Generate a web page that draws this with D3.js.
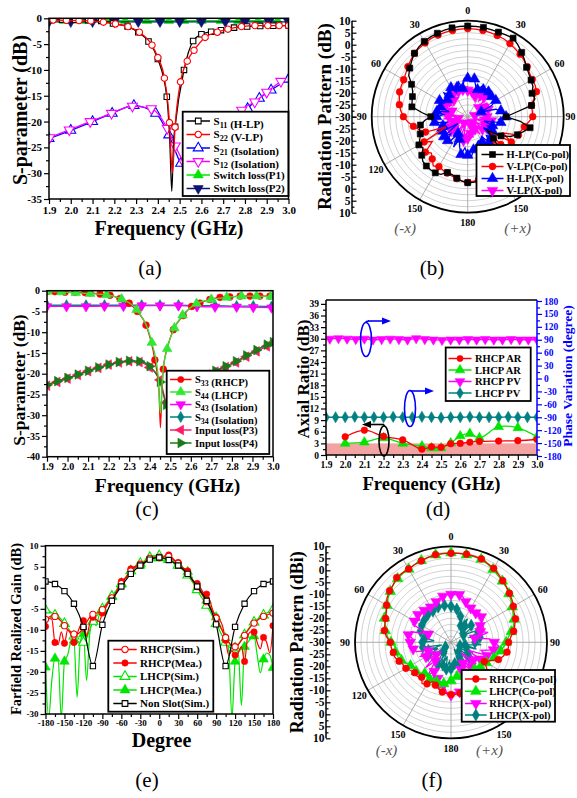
<!DOCTYPE html>
<html><head><meta charset="utf-8">
<script src="https://cdn.jsdelivr.net/npm/d3@7/dist/d3.min.js"></script>
<style>
html,body{margin:0;padding:0;background:#fff;}
svg text{font-family:"Liberation Serif","Times New Roman",serif;}
</style></head><body>
<script>
// ================= DATA =================
// ---- Panel (a) ----
const aTicksX=[1.9,2.0,2.1,2.2,2.3,2.4,2.5,2.6,2.7,2.8,2.9,3.0];
const aTicksY=[0,-5,-10,-15,-20,-25,-30,-35];
const aS11F=[1.9,1.96,2.02,2.08,2.14,2.194,2.261,2.31,2.357,2.40,2.441,2.455,2.464,2.472,2.479,2.52,2.562,2.6,2.645,2.69,2.75,2.81,2.87,2.93,3.0];
const aS11V=[-0.2,-0.25,-0.3,-0.35,-0.5,-1.0,-1.6,-2.7,-4.5,-7.9,-15.2,-24,-33.5,-24,-21,-10,-4.4,-3.1,-2.6,-2.3,-1.8,-1.6,-1.5,-1.45,-1.4];
const aS22F=[1.919,1.98,2.038,2.092,2.15,2.205,2.263,2.315,2.373,2.40,2.43,2.453,2.461,2.467,2.479,2.504,2.535,2.566,2.617,2.673,2.722,2.784,2.846,2.905,2.957,3.0];
const aS22V=[-0.33,-0.4,-0.45,-0.5,-0.75,-1.1,-1.6,-2.7,-5.2,-7.6,-11.6,-20.2,-27,-30,-21.1,-12.3,-8.3,-6.2,-3.7,-2.7,-2.1,-1.6,-1.4,-1.4,-1.4,-1.4];
const aS21F=[1.9,2.0,2.1,2.19,2.29,2.39,2.45,2.505,2.56,2.64,2.72,2.812,2.866,2.92,3.0];
const aS21V=[-23.3,-21.7,-20.0,-18.4,-16.9,-18.4,-22.6,-28.1,-31,-30,-24,-17.5,-15.5,-13.9,-11.8];
const aS12F=[1.903,1.993,2.089,2.187,2.283,2.37,2.443,2.48,2.52,2.6,2.7,2.785,2.845,2.9,2.965];
const aS12V=[-23.1,-21.6,-20.0,-18.4,-17.0,-17.5,-21.3,-24.7,-28,-31,-26,-17.8,-16.2,-14.3,-12.2];
const aSw1F=[1.9,1.97,2.07,2.17,2.25,2.35,2.45,2.52,2.6,2.69,2.77,2.86,2.95];
const aSw1V=[-0.45,-0.45,-0.45,-0.45,-0.45,-0.45,-0.45,-0.45,-0.45,-0.45,-0.45,-0.45,-0.45];
const aSw2F=[1.9,2.0,2.1,2.2,2.31,2.41,2.5,2.6,2.71,2.8,2.91,3.0];
const aSw2V=[-0.7,-0.7,-0.7,-0.7,-0.7,-0.7,-0.7,-0.7,-0.7,-0.7,-0.7,-0.7];

// ---- Panel (b) polar (angles -180..175 step 5) ----
const rTickLabels=[10,5,0,-5,-10,-15,-20,-25,-30];
const bHCo=[-2.5,-3,-4,-5,-5.3,-3.5,-3,-3,-3.2,-3.6,-5,-7.3,-6.5,-8,-9,-9.2,-10,-12,-14.6,-11,-6.4,-6,-5.5,-4.7,-3,0,1.5,3,4.5,5.5,6.2,6.7,7,7.3,7.6,7.8,
 7.8,7.8,7.8,7.6,7.5,7.6,7.8,6.5,5,3.5,2,1.1,0.5,0,-1.5,-1,-3,-10,-14,-8,-3.6,-6,-8,-10.5,-14,-20,-16,-12,-9,-7,-5,-4,-3.5,-3.5,-3,-2.5];
const bVCo=[-2.6,-3,-3.8,-4.4,-5,-5.5,-6,-5,-7,-8.6,-7,-12,-9,-20,-11.3,-9,-7,-5,-3.2,-2,-1.1,-0.5,0.2,0.5,0.8,1.5,2.5,3.5,4.5,5,5.5,6,6.2,6.4,6.5,6.6,
 6.7,6.6,6.5,6.3,6,5.7,5.2,4.5,4,3.2,2.4,1.5,1,1,0.5,-1.5,-3,-3,-2.9,-4.5,-6,-7,-7.5,-14,-9,-20,-12,-15,-9,-7,-6,-5,-4.5,-4,-3.5,-3];
const bHX=[-14,-17,-14,-17,-20,-16,-22,-18,-17,-20,-17,-25,-18,-16,-19,-21,-16,-15,-17,-20,-17,-22,-18,-17,-16.5,-18,-19,-16,-18,-16,-16,-19,-17,-15,-18,-14,
 -14,-15,-14,-17,-18,-16,-17,-16,-16.5,-18,-17,-16,-16.5,-19,-24,-18,-16,-14.5,-14,-17,-16,-23,-19,-21,-18,-22,-17,-19,-16,-20,-18,-15,-17,-14,-16,-13];
const bVX=[-21,-23,-20,-26,-21,-22,-27,-20,-22,-25,-21,-27,-22,-20,-24,-21,-26,-20,-22,-25,-21,-19.5,-23,-20,-19.6,-22,-20,-19.6,-21,-19,-18.6,-20,-18.8,-19,-18.5,-19,
 -19,-18.7,-19.5,-18.5,-21,-19,-19.4,-22,-19.5,-21,-24,-20,-22,-26,-21,-23,-27,-21,-22,-25,-20,-27,-22,-24,-21,-26,-22,-23,-27,-21,-24,-22,-26,-21,-23,-22];

// ---- Panel (c) ----
const cTicksY=[0,-5,-10,-15,-20,-25,-30,-35,-40];
const cS33F=[1.9,1.939,1.988,2.036,2.085,2.109,2.158,2.207,2.255,2.3,2.34,2.382,2.425,2.445,2.452,2.459,2.466,2.49,2.515,2.563,2.604,2.644,2.693,2.742,2.79,2.84,2.888,2.936,2.985];
const cS33V=[-0.2,-0.24,-0.35,-0.4,-0.45,-0.5,-0.8,-1.1,-1.9,-3.0,-5.0,-8.3,-16.7,-24,-33,-24,-18.9,-13,-9.4,-6,-3.8,-3,-2.1,-1.6,-1.5,-1.3,-1.3,-1.3,-1.3];
const cS44F=[1.9,1.97,2.04,2.11,2.19,2.263,2.336,2.41,2.44,2.452,2.463,2.485,2.52,2.56,2.628,2.7,2.775,2.847,2.92,2.99];
const cS44V=[-0.2,-0.3,-0.5,-0.7,-1.0,-2.0,-4.6,-12.5,-20,-29.5,-20,-14,-9,-5.9,-3.1,-2.1,-1.6,-1.3,-1.3,-1.4];
const cIsoF=[1.9,1.995,2.09,2.18,2.272,2.361,2.45,2.54,2.63,2.718,2.823,2.904,2.993];
const cS43V=[-3.8,-3.8,-3.8,-3.7,-3.7,-3.6,-3.6,-3.6,-3.8,-3.9,-3.9,-4.0,-4.1];
const cS34V=[-3.5,-3.5,-3.5,-3.5,-3.5,-3.5,-3.5,-3.5,-3.6,-3.6,-3.7,-3.7,-3.8];
const cInF=[1.9,1.95,2.0,2.05,2.1,2.15,2.2,2.25,2.3,2.35,2.4,2.45,2.48,2.52,2.58,2.64,2.68,2.72,2.77,2.82,2.87,2.92,2.97,3.0];
const cP3V=[-22.9,-22.0,-21.2,-20.3,-19.4,-18.6,-17.8,-17.3,-17.0,-17.2,-18.5,-21.5,-27,-30.5,-29.5,-22.5,-20.2,-19.5,-18.4,-17.3,-15.9,-14.6,-13.4,-12.6];
const cP4V=[-22.7,-21.8,-21.0,-20.2,-19.3,-18.5,-17.8,-17.2,-16.9,-17.0,-18.2,-22.0,-27.5,-31,-30,-23,-20.5,-19.3,-18.2,-17.0,-15.6,-14.3,-13.0,-12.4];

// ---- Panel (d) ----
const dTicksY=[0,3,6,9,12,15,18,21,24,27,30,33,36,39];
const dTicksR=[-180,-150,-120,-90,-60,-30,0,30,60,90,120,150,180];
const dARF=[2.0,2.1,2.2,2.3,2.4,2.45,2.5,2.55,2.6,2.65,2.7,2.8,2.9,3.0];
const dRAR=[4.7,6.4,4.8,3.9,1.5,2.1,2.0,2.9,3.0,3.3,3.5,3.6,3.7,4.0];
const dLAR=[3.0,3.3,4.4,3.0,2.3,1.8,1.8,3.1,4.9,5.5,4.4,7.3,7.0,4.7];
const dPVRF=[1.92,1.965,2.01,2.055,2.1,2.145,2.19,2.235,2.28,2.325,2.37,2.415,2.46,2.505,2.55,2.595,2.64,2.685,2.73,2.775,2.82,2.865,2.91,2.955,3.0];
const dPVRV=[92,93,92,91,92,90,91,92,91,90,93,91,90,89,90,90,91,90,91,90,90,91,90,90,90];
const dPVLF=[1.9,1.95,2.0,2.05,2.1,2.15,2.2,2.25,2.3,2.35,2.4,2.45,2.5,2.55,2.6,2.65,2.7,2.75,2.8,2.85,2.9,2.95,3.0];
const dPVLV=[-90,-90,-90,-89,-90,-90,-90,-89,-90,-90,-89,-90,-91,-90,-90,-89,-90,-90,-90,-89,-90,-90,-90];

// ---- Panel (e) (angles -180..180 step 5) ----
const eTicksX=[-180,-150,-120,-90,-60,-30,0,30,60,90,120,150,180];
const eTicksY=[10,5,0,-5,-10,-15,-20,-25,-30];
const eRSim=[-7.5,-7,-6.7,-6.8,-7.3,-8,-9,-10,-10.5,-11,-11,-10.5,-9.5,-8.2,-7,-6.3,-6,-5.8,-5.2,-4.3,-3.3,-2.4,-1.5,-0.2,1,2,3,4,4.7,5.2,5.6,6,6.5,7,7.2,7.3,
 7.3,7.4,7.6,7.5,7,6.3,5.8,5,4.3,3.4,2.4,1.3,0.3,-1,-2.2,-3.3,-4.5,-5.8,-7.2,-8.8,-10.3,-11.8,-13,-13.8,-14,-13.5,-12.5,-11.3,-10.2,-9.2,-8.4,-7.8,-7.2,-6.8,-6.5,-6.2,-6];
const eRMea=[-9.2,-7.3,-7.5,-13,-13.5,-10.5,-13.2,-10,-11,-13,-11,-9,-7.8,-11.5,-8.5,-7,-7.5,-8,-6,-4.8,-3.5,-2.5,-1.8,0,1.5,2.2,3,4.5,5,5.3,5.5,5.8,6.3,6.8,7.2,7.2,
 7.1,7.3,7.6,7.8,7.2,6.5,6,5,4.5,4,2.5,1.5,1,0,-1.2,-1.5,-3,-5.5,-7,-7.5,-9,-12.5,-16,-15,-16,-15.5,-14,-17.5,-11.5,-10.5,-10.5,-13,-14.5,-11.8,-13,-15.5,-9];
const eLSim=[-5.3,-5.5,-6,-6.5,-7,-7.5,-8.5,-9.5,-10.5,-11.5,-12.5,-13,-13,-12,-10,-8,-6.8,-6,-5,-4,-3,-2,-1,0,1,2,3,4,4.8,5.3,5.8,6.3,6.7,7.2,7.6,7.7,
 7.6,7.3,7,6.7,6.3,5.8,5.3,4.6,3.8,3,2,0.8,-0.5,-1.8,-3,-4.2,-5.5,-7,-8.5,-10,-11.5,-13,-14,-14.5,-14.3,-13.5,-12.3,-11.2,-10,-9,-8.2,-7.5,-7,-6.5,-6,-5.6,-5.2];
const eLMea=[-18.9,-31,-22,-16.8,-17,-31,-17.5,-16,-13,-12.5,-26,-13,-11,-22,-11,-8,-9,-6.5,-5.5,-4.5,-3,-2.2,-1.5,0.2,0.8,2,3,4,4.5,5,5.3,5.5,6.5,7,7.5,7.2,
 7,7,7.3,7,6.5,5.5,5.5,5,4.5,3.8,2,1,0,-0.5,-1.5,-3,-4.5,-5.5,-7,-9,-10,-12,-15,-31,-17.5,-15,-28,-14,-13,-12,-11.5,-16,-20.2,-17,-15.5,-16,-19];
const eNSDeg=[-180,-165,-150,-135,-120,-105,-90,-75,-60,-45,-30,-15,0,15,30,45,60,75,90,105,120,135,150,165,180];
const eNS=[1.5,0.9,-0.8,-3.8,-9.3,-18.6,-8.8,-3.1,0.3,3.3,5.3,6.7,7.2,6.6,5.3,3.3,0.3,-3.1,-8.7,-18.6,-9.3,-3.8,-0.8,0.9,1.5];

// ---- Panel (f) polar ----
const fRCo=[-8.2,-8.5,-9,-10,-11,-12,-10,-9,-11,-10,-10.3,-9.5,-8.3,-8,-7,-5.8,-5.6,-5,-4.7,-3,-1.8,-1.5,-1,-0.3,1,2.5,3.4,4,5.2,5.3,5.3,5.8,6.1,6.6,7.1,7.1,
 7.1,7.2,7.3,7.2,7,6.2,5.6,4.5,3.5,2.7,1.8,1,0,-1,-1.4,-2.5,-3.5,-5,-6,-6,-6.3,-7.5,-9,-12,-14,-12,-10,-11,-12,-9,-8,-10,-11,-9,-8.5,-8.2];
const fLCo=[-14,-13,-12.5,-13,-12.5,-13.5,-12.3,-12.5,-13,-12,-11,-11,-10.5,-9.5,-8,-7,-6.5,-6.8,-5,-3.5,-2.2,-1.5,-0.5,0,0.8,2,3,4,4.6,5,5.2,5.8,6.2,6.8,7,7.2,
 7.3,7.2,7,7,6.8,6,5,4,3.3,2.5,1.5,0.5,-0.5,-1.5,-2,-3,-4.5,-6,-7,-8,-9,-10,-11,-12,-13,-14,-14,-16,-15,-14,-14.5,-15,-15,-15.5,-15.6,-15];
const fRX=[-8,-9,-12,-10,-14,-12,-16,-13,-20,-15,-22,-17,-18,-16,-20,-15,-14,-13,-13,-14,-12,-13,-20,-12.5,-12.4,-14,-12,-13,-12.6,-12.6,-13,-12.5,-12,-11,-10.5,-10,
 -10,-10,-9.8,-10.5,-12,-14,-13.5,-13.8,-14,-13,-13.5,-13.7,-16,-15,-17,-14,-20,-14,-12,-10,-12,-17,-14,-22,-16,-20,-18,-24,-17,-15,-20,-13,-18,-11,-9,-8.5];
const fLX=[-19,-22,-18.7,-24,-20,-26,-19,-22,-25,-20,-27,-21,-19,-24,-20,-26,-18,-19,-18,-23,-19,-17,-16.5,-16,-15.9,-16,-15.5,-16,-15,-15.2,-15,-14.6,-14.4,-14.5,-14.4,-15,
 -15,-15,-16,-18,-18.5,-19,-22,-18,-21,-25,-19,-20,-24,-18.5,-18,-22,-17.8,-17.5,-20,-17.4,-24,-19,-26,-20,-22,-27,-20,-21,-25,-19,-23,-27,-20,-18.7,-21,-19];

// ================= DRAWING =================
const FONT='"Liberation Serif","Times New Roman",serif';
const RED='#ff0000',BLK='#000000',BLU='#0000ff',MAG='#ff00ff',GRN='#00e600',NAVY='#0b1470',TEAL='#008080',CRIM='#ff1a66',DGRN='#1a7a1a';
const svg=d3.select('body').append('svg').attr('width',577).attr('height',798).style('background','#fff');
const defs=svg.append('defs');
function clip(id,x,y,w,h){defs.append('clipPath').attr('id',id).append('rect').attr('x',x).attr('y',y).attr('width',w).attr('height',h);}
const SYM={sq:[d3.symbolSquare,0,1],ci:[d3.symbolCircle,0,1],tu:[d3.symbolTriangle,0,1.35],td:[d3.symbolTriangle,180,1.35],tl:[d3.symbolTriangle,-90,1.35],tr:[d3.symbolTriangle,90,1.35],di:[d3.symbolDiamond,0,1.2]};
function mk(g,t,x,y,c,f,s){
  const [ty,r,k]=SYM[t];
  g.append('path').attr('d',d3.symbol().type(ty).size((s||36)*k)()).attr('transform',`translate(${x},${y}) rotate(${r})`)
   .attr('fill',f?c:'#fff').attr('stroke',c).attr('stroke-width',f?0.6:1.1);
}
function txt(g,x,y,s,size,o){
  o=o||{};
  const t=g.append('text').attr('x',x).attr('y',y).text(s).attr('font-size',size)
   .attr('font-weight',o.w||'bold').attr('fill',o.c||'#000').attr('text-anchor',o.a||'middle').attr('font-family',FONT);
  if(o.rot) t.attr('transform',`rotate(${o.rot},${x},${y})`);
  if(o.it) t.attr('font-style','italic');
  return t;
}
function cline(g,xs,ys,fv,vv,c,t,f,o){
  o=o||{};
  const pts=fv.map((v,i)=>[xs(v),ys(vv[i])]);
  g.append('path').attr('d',d3.line().curve(o.curve||d3.curveMonotoneX)(pts)).attr('fill','none').attr('stroke',c).attr('stroke-width',o.lw||1.3);
  const ev=o.every||1;
  pts.forEach((p,i)=>{ if(i%ev===0 && !(o.skip||[]).includes(i)) mk(g,t,p[0],p[1],c,f,o.sz); });
}
function styleAx(a,fs,col){
  a.select('.domain').remove();
  a.selectAll('line').attr('stroke',col||'#000').attr('stroke-width',1.2);
  a.selectAll('text').attr('font-size',fs).attr('font-weight','bold').attr('fill',col||'#000').attr('font-family',FONT);
  return a;
}
function axesXY(g,xs,ys,o){
  const [x0,x1]=xs.range(); const [yb,yt]=ys.range(); const fs=o.fs||11;
  styleAx(g.append('g').attr('transform',`translate(0,${yb})`).call(d3.axisBottom(xs).tickValues(o.xMinor).tickSize(3).tickFormat('')),fs);
  styleAx(g.append('g').attr('transform',`translate(0,${yb})`).call(d3.axisBottom(xs).tickValues(o.xTicks).tickSize(5).tickPadding(o.xpad==null?2:o.xpad).tickFormat(o.xf)),fs);
  styleAx(g.append('g').attr('transform',`translate(${x0},0)`).call(d3.axisLeft(ys).tickValues(o.yMinor).tickSize(3).tickFormat('')),fs);
  styleAx(g.append('g').attr('transform',`translate(${x0},0)`).call(d3.axisLeft(ys).tickValues(o.yTicks).tickSize(5).tickPadding(2).tickFormat(o.yf)),fs);
  g.append('rect').attr('x',x0).attr('y',yt).attr('width',x1-x0).attr('height',yb-yt).attr('fill','none').attr('stroke','#000').attr('stroke-width',1.5);
}
function legend(g,box,rows,items,lx0,lx1,tx,fs,msz){
  g.append('rect').attr('x',box[0]).attr('y',box[1]).attr('width',box[2]-box[0]).attr('height',box[3]-box[1]).attr('fill','#fff').attr('stroke','#000').attr('stroke-width',1.8);
  items.forEach((it,i)=>{
    const y=rows[i];
    g.append('line').attr('x1',lx0).attr('x2',lx1).attr('y1',y).attr('y2',y).attr('stroke',it.c).attr('stroke-width',1.5);
    mk(g,it.t,(lx0+lx1)/2,y,it.c,it.f,msz);
    const t=g.append('text').attr('x',tx).attr('y',y+fs*0.36).attr('font-size',fs).attr('font-weight','bold').attr('font-family',FONT);
    it.p.forEach(pt=>{
      if(pt[1]){ t.append('tspan').text(pt[0]).attr('font-size',fs*0.75).attr('dy',3); t.append('tspan').text('').attr('dy',-3); }
      else t.append('tspan').text(pt[0]);
    });
  });
}
const f1=v=>v.toFixed(1), fi=v=>String(v);

// ---------- Panel (a) ----------
{
  const g=svg.append('g');
  const xs=d3.scaleLinear().domain([1.9,3.0]).range([49,288.5]);
  const ys=d3.scaleLinear().domain([-35,0]).range([199,18.3]);
  clip('ca',49,18.3,239.5,180.7);
  const p=g.append('g').attr('clip-path','url(#ca)');
  cline(p,xs,ys,aSw1F,aSw1V,GRN,'tu',true,{sz:30});
  cline(p,xs,ys,aSw2F,aSw2V,NAVY,'td',true,{sz:30});
  cline(p,xs,ys,aS21F,aS21V,BLU,'tu',false,{sz:32});
  cline(p,xs,ys,aS12F,aS12V,MAG,'td',false,{sz:32});
  cline(p,xs,ys,aS11F,aS11V,BLK,'sq',false,{sz:30,skip:[11,12,13]});
  cline(p,xs,ys,aS22F,aS22V,RED,'ci',false,{sz:32,skip:[12,13]});
  legend(g,[182.7,111.7,288.5,196],[121,134.5,148,161.5,175,188.5],[
    {c:BLK,t:'sq',f:false,p:[['S',0],['11',1],[' (H-LP)',0]]},
    {c:RED,t:'ci',f:false,p:[['S',0],['22',1],[' (V-LP)',0]]},
    {c:BLU,t:'tu',f:false,p:[['S',0],['21',1],[' (Isolation)',0]]},
    {c:MAG,t:'td',f:false,p:[['S',0],['12',1],[' (Isolation)',0]]},
    {c:GRN,t:'tu',f:true,p:[['Switch loss(P1)',0]]},
    {c:NAVY,t:'td',f:true,p:[['Switch loss(P2)',0]]}],186.5,210,213.5,11,32);
  axesXY(g,xs,ys,{xTicks:aTicksX,xMinor:d3.range(1.95,3.0,0.1),yTicks:aTicksY,yMinor:d3.range(-32.5,0,5),xf:f1,yf:fi,fs:11});
  txt(g,169,235,'Frequency (GHz)',20);
  txt(g,27,110,'S-parameter (dB)',20,{rot:-90});
  txt(g,150,275,'(a)',21,{w:'normal'});
}

// ---------- Polar helper ----------
const polarAng=d3.range(-180,180,5);
function polar(o){
  const g=svg.append('g');
  const R=o.R, cx=o.cx, cy=o.cy;
  const rs=d3.scaleLinear().domain([-30,10]).range([0,R]);
  const P=(a,v)=>{const t=a*Math.PI/180, r=rs(Math.max(-30,v)); return [cx+r*Math.sin(t), cy-r*Math.cos(t)];};
  d3.range(-27.5,10,2.5).forEach(v=>g.append('circle').attr('cx',cx).attr('cy',cy).attr('r',rs(v)).attr('fill','none').attr('stroke','#b4b4b4').attr('stroke-width',0.6));
  [0,30,60,90,120,150,180,210,240,270,300,330].forEach(a=>{const p=P(a,10); g.append('line').attr('x1',cx).attr('y1',cy).attr('x2',p[0]).attr('y2',p[1]).attr('stroke','#999').attr('stroke-width',0.8);});
  g.append('circle').attr('cx',cx).attr('cy',cy).attr('r',R).attr('fill','none').attr('stroke','#000').attr('stroke-width',1.8);
  o.series.forEach(s=>{
    const pts=polarAng.map((a,i)=>P(a,s.v[i]));
    g.append('path').attr('d',d3.line().curve(d3.curveLinearClosed)(pts)).attr('fill','none').attr('stroke',s.c).attr('stroke-width',1.3);
    pts.forEach((p,i)=>{ if(i%2===0) mk(g,s.t,p[0],p[1],s.c,true,36); });
  });
  // angle labels (the right-hand 120 label sits behind the legend in the reference)
  [[0,'0',10],[30,'30',10],[60,'60',10],[90,'90',8],[150,'150',10],[180,'180',10],[-30,'30',10],[-60,'60',10],[-90,'90',10],[-120,'120',10],[-150,'150',10]].forEach(([a,l,dr])=>{
    const t=a*Math.PI/180, r=R+dr;
    txt(g,Math.min(cx+r*Math.sin(t),570.5),cy-r*Math.cos(t)+3.5,l,10);
  });
  // radial axis
  const yUp=d3.scaleLinear().domain([-30,10]).range([cy,cy-R]);
  const yDn=d3.scaleLinear().domain([-30,10]).range([cy,cy+R]);
  g.append('line').attr('x1',o.axX).attr('x2',o.axX).attr('y1',cy-R).attr('y2',cy+R).attr('stroke','#000').attr('stroke-width',1.5);
  [yUp,yDn].forEach(sc=>{
    styleAx(g.append('g').attr('transform',`translate(${o.axX},0)`).call(d3.axisRight(sc).tickValues(d3.range(-27.5,10,5)).tickSize(2.5).tickFormat('')),11);
    styleAx(g.append('g').attr('transform',`translate(${o.axX},0)`).call(d3.axisRight(sc).tickValues(rTickLabels).tickSize(4.5).tickFormat('')),11);
  });
  styleAx(g.append('g').attr('transform',`translate(${o.axX},0)`).call(d3.axisLeft(yUp).tickValues(rTickLabels).tickSize(0).tickPadding(1.5).tickFormat(fi)),11.5);
  styleAx(g.append('g').attr('transform',`translate(${o.axX},0)`).call(d3.axisLeft(yDn).tickValues(rTickLabels.slice(0,8)).tickSize(0).tickPadding(1.5).tickFormat(fi)),11.5);
  txt(g,o.titleX,cy,o.title,o.titleFs,{rot:-90});
  txt(g,cx+o.mx,o.xlY,'(-x)',15,{w:'normal',it:true,c:'#555'});
  txt(g,cx+o.px,o.xlY,'(+x)',15,{w:'normal',it:true,c:'#555'});
  legend(g,o.box,o.rows,o.items,o.lx0,o.lx1,o.tx,10.5,36);
  return g;
}

// ---------- Panel (b) ----------
polar({cx:467.7,cy:116.7,R:96,axX:352,title:'Radiation Pattern (dB)',titleX:331,titleFs:19,xlY:233,mx:-62.5,px:50,
  series:[{v:bVX,c:MAG,t:'td'},{v:bHX,c:BLU,t:'tu'},{v:bVCo,c:RED,t:'ci'},{v:bHCo,c:BLK,t:'sq'}],
  box:[476.5,145,570,196],rows:[154.5,166.5,178.5,190.5],lx0:481.5,lx1:503.5,tx:506.5,
  items:[{c:BLK,t:'sq',f:true,p:[['H-LP(Co-pol)',0]]},{c:RED,t:'ci',f:true,p:[['V-LP(Co-pol)',0]]},{c:BLU,t:'tu',f:true,p:[['H-LP(X-pol)',0]]},{c:MAG,t:'td',f:true,p:[['V-LP(X-pol)',0]]}]});
txt(svg,432,275,'(b)',21,{w:'normal'});

// ---------- Panel (c) ----------
{
  const g=svg.append('g');
  const xs=d3.scaleLinear().domain([1.9,3.0]).range([47,273]);
  const ys=d3.scaleLinear().domain([-40,0]).range([456.7,290.7]);
  clip('cc',47,290.7,226,166);
  const p=g.append('g').attr('clip-path','url(#cc)');
  cline(p,xs,ys,cIsoF,cS34V,TEAL,'di',true,{sz:30});
  cline(p,xs,ys,cIsoF,cS43V,MAG,'td',true,{sz:30});
  cline(p,xs,ys,cInF,cP3V,CRIM,'tl',true,{sz:30});
  cline(p,xs,ys,cInF,cP4V,DGRN,'tr',true,{sz:30});
  cline(p,xs,ys,cS33F,cS33V,RED,'ci',true,{sz:36,skip:[13,14,15,17]});
  cline(p,xs,ys,cS44F,cS44V,'#33e633','tu',true,{sz:30,skip:[8,9,10]});
  legend(g,[166.7,370.7,269.3,454],[379.5,392,404.5,417,430,443],[
    {c:RED,t:'ci',f:true,p:[['S',0],['33',1],[' (RHCP)',0]]},
    {c:'#33e633',t:'tu',f:true,p:[['S',0],['44',1],['  (LHCP)',0]]},
    {c:MAG,t:'td',f:true,p:[['S',0],['43',1],[' (Isolation)',0]]},
    {c:TEAL,t:'di',f:true,p:[['S',0],['34',1],[' (Isolation)',0]]},
    {c:CRIM,t:'tl',f:true,p:[['Input loss(P3)',0]]},
    {c:DGRN,t:'tr',f:true,p:[['Input loss(P4)',0]]}],170,191.5,195,10.5,30);
  axesXY(g,xs,ys,{xTicks:aTicksX,xMinor:d3.range(1.95,3.0,0.1),yTicks:cTicksY,yMinor:d3.range(-37.5,0,5),xf:f1,yf:fi,fs:10,xpad:1});
  txt(g,167.5,491.5,'Frequency (GHz)',19.5);
  txt(g,25,380,'S-parameter (dB)',17.5,{rot:-90});
  txt(g,147,516,'(c)',21,{w:'normal'});
}

// ---------- Panel (d) ----------
{
  const g=svg.append('g');
  const xs=d3.scaleLinear().domain([1.9,3.0]).range([326,537]);
  const ys=d3.scaleLinear().domain([0,40]).range([455,300]);
  const yr=d3.scaleLinear().domain([-180,180]).range([456,301]);
  clip('cd',326,300,211,155);
  const p=g.append('g').attr('clip-path','url(#cd)');
  p.append('rect').attr('x',326).attr('y',ys(3)).attr('width',211).attr('height',ys(0)-ys(3)).attr('fill','#f4a3a3');
  cline(p,xs,yr,dPVLF,dPVLV,TEAL,'di',true,{sz:30});
  cline(p,xs,yr,dPVRF,dPVRV,MAG,'td',true,{sz:28});
  cline(p,xs,ys,dARF,dLAR,GRN,'tu',true,{sz:30,curve:d3.curveCatmullRom});
  cline(p,xs,ys,dARF,dRAR,RED,'ci',true,{sz:34,curve:d3.curveCatmullRom});
  // annotations
  const ell=(x,y,rx,ry,c)=>g.append('ellipse').attr('cx',x).attr('cy',y).attr('rx',rx).attr('ry',ry).attr('fill','none').attr('stroke',c).attr('stroke-width',1.6);
  const arrow=(x0,x1,y,c)=>{const d=x1>x0?1:-1; g.append('line').attr('x1',x0).attr('x2',x1-d*8).attr('y1',y).attr('y2',y).attr('stroke',c).attr('stroke-width',1.6);
    g.append('path').attr('d',`M${x1},${y}L${x1-d*9},${y-3.6}L${x1-d*9},${y+3.6}Z`).attr('fill',c);};
  ell(366,339.5,5.5,17,BLU); g.append('path').attr('d','M366,322.5 Q366,321 369,321').attr('fill','none').attr('stroke',BLU).attr('stroke-width',1.6); arrow(368,391,321,BLU);
  ell(410,408.5,5.5,18,BLU); g.append('path').attr('d','M410,390.5 Q410,391 412,391').attr('fill','none').attr('stroke',BLU).attr('stroke-width',1.6); arrow(411,434,391,BLU);
  ell(384,441,5,15,BLK); arrow(384,362,424.5,BLK); g.append('line').attr('x1',384).attr('x2',384).attr('y1',424.5).attr('y2',426).attr('stroke',BLK).attr('stroke-width',1.6);
  legend(g,[445.7,347.5,530.7,401],[358.5,370,381.5,393],[
    {c:RED,t:'ci',f:true,p:[['RHCP AR',0]]},
    {c:GRN,t:'tu',f:true,p:[['LHCP AR',0]]},
    {c:MAG,t:'td',f:true,p:[['RHCP PV',0]]},
    {c:TEAL,t:'di',f:true,p:[['LHCP PV',0]]}],448.5,471.5,475,10.5,30);
  // axes
  styleAx(g.append('g').attr('transform','translate(0,455)').call(d3.axisBottom(xs).tickValues(d3.range(1.95,3.0,0.1)).tickSize(3).tickFormat('')),9.5);
  styleAx(g.append('g').attr('transform','translate(0,455)').call(d3.axisBottom(xs).tickValues(aTicksX).tickSize(5).tickPadding(1).tickFormat(f1)),9.5);
  styleAx(g.append('g').attr('transform','translate(326,0)').call(d3.axisLeft(ys).tickValues(d3.range(1.5,40,3)).tickSize(3).tickFormat('')),9.5);
  styleAx(g.append('g').attr('transform','translate(326,0)').call(d3.axisLeft(ys).tickValues(dTicksY).tickSize(5).tickPadding(2).tickFormat(fi)),9.5);
  styleAx(g.append('g').attr('transform','translate(537,0)').call(d3.axisRight(yr).tickValues(d3.range(-165,180,30)).tickSize(3).tickFormat('')),9.5,BLU);
  styleAx(g.append('g').attr('transform','translate(537,0)').call(d3.axisRight(yr).tickValues(dTicksR).tickSize(5).tickPadding(2).tickFormat(fi)),9.5,BLU);
  g.append('line').attr('x1',326).attr('x2',537).attr('y1',300).attr('y2',300).attr('stroke','#000').attr('stroke-width',1.5);
  g.append('line').attr('x1',326).attr('x2',537).attr('y1',455).attr('y2',455).attr('stroke','#000').attr('stroke-width',1.5);
  g.append('line').attr('x1',326).attr('x2',326).attr('y1',300).attr('y2',455).attr('stroke','#000').attr('stroke-width',1.5);
  g.append('line').attr('x1',537).attr('x2',537).attr('y1',300).attr('y2',455).attr('stroke',BLU).attr('stroke-width',1.5);
  txt(g,431.5,490,'Frequency (GHz)',18.5);
  txt(g,309,379,'Axial Ratio (dB)',17,{rot:-90});
  txt(g,572,376,'Phase Variation (degree)',13.5,{rot:-90,c:BLU});
  txt(g,438,516,'(d)',21,{w:'normal'});
}

// ---------- Panel (e) ----------
{
  const g=svg.append('g');
  const xs=d3.scaleLinear().domain([-180,180]).range([45.5,273]);
  const ys=d3.scaleLinear().domain([-30,10]).range([714,545.7]);
  const deg=d3.range(-180,181,5);
  clip('ce',45.5,545.7,227.5,168.3);
  const p=g.append('g').attr('clip-path','url(#ce)');
  cline(p,xs,ys,deg,eLMea,GRN,'tu',true,{sz:30,every:3,lw:1.2});
  cline(p,xs,ys,deg,eLSim,GRN,'tu',false,{sz:30,every:3,lw:1.2});
  cline(p,xs,ys,deg,eRMea,RED,'ci',true,{sz:32,every:3,lw:1.2});
  cline(p,xs,ys,deg,eRSim,RED,'ci',false,{sz:30,every:3,lw:1.2});
  cline(p,xs,ys,eNSDeg,eNS,BLK,'sq',false,{sz:28,lw:1.2});
  legend(g,[108.3,640.7,213.3,711.7],[649.5,663,676.5,690,703.5],[
    {c:RED,t:'ci',f:false,p:[['RHCP(Sim.)',0]]},
    {c:RED,t:'ci',f:true,p:[['RHCP(Mea.)',0]]},
    {c:GRN,t:'tu',f:false,p:[['LHCP(Sim.)',0]]},
    {c:GRN,t:'tu',f:true,p:[['LHCP(Mea.)',0]]},
    {c:BLK,t:'sq',f:false,p:[['Non Slot(Sim.)',0]]}],113.3,136.7,140,11,32);
  axesXY(g,xs,ys,{xTicks:eTicksX,xMinor:d3.range(-165,180,30),yTicks:eTicksY,yMinor:d3.range(-27.5,10,5),xf:fi,yf:fi,fs:9,xpad:1});
  txt(g,161.5,747,'Degree',20);
  txt(g,21,629,'Farfield Realized Gain (dB)',14.5,{rot:-90});
  txt(g,147,787,'(e)',21,{w:'normal'});
}

// ---------- Panel (f) ----------
polar({cx:451,cy:642.3,R:96,axX:326,title:'Radiation Pattern (dBi)',titleX:303,titleFs:18,xlY:755,mx:-64.5,px:38.5,
  series:[{v:fLX,c:TEAL,t:'di'},{v:fRX,c:MAG,t:'td'},{v:fLCo,c:GRN,t:'tu'},{v:fRCo,c:RED,t:'ci'}],
  box:[461.7,670,555,721.7],rows:[679,691.3,703.5,715],lx0:465,lx1:486.7,tx:489.3,
  items:[{c:RED,t:'ci',f:true,p:[['RHCP(Co-pol)',0]]},{c:GRN,t:'tu',f:true,p:[['LHCP(Co-pol)',0]]},{c:MAG,t:'td',f:true,p:[['RHCP(X-pol)',0]]},{c:TEAL,t:'di',f:true,p:[['LHCP(X-pol)',0]]}]});
txt(svg,432,787,'(f)',21,{w:'normal'});
</script>
</body></html>
